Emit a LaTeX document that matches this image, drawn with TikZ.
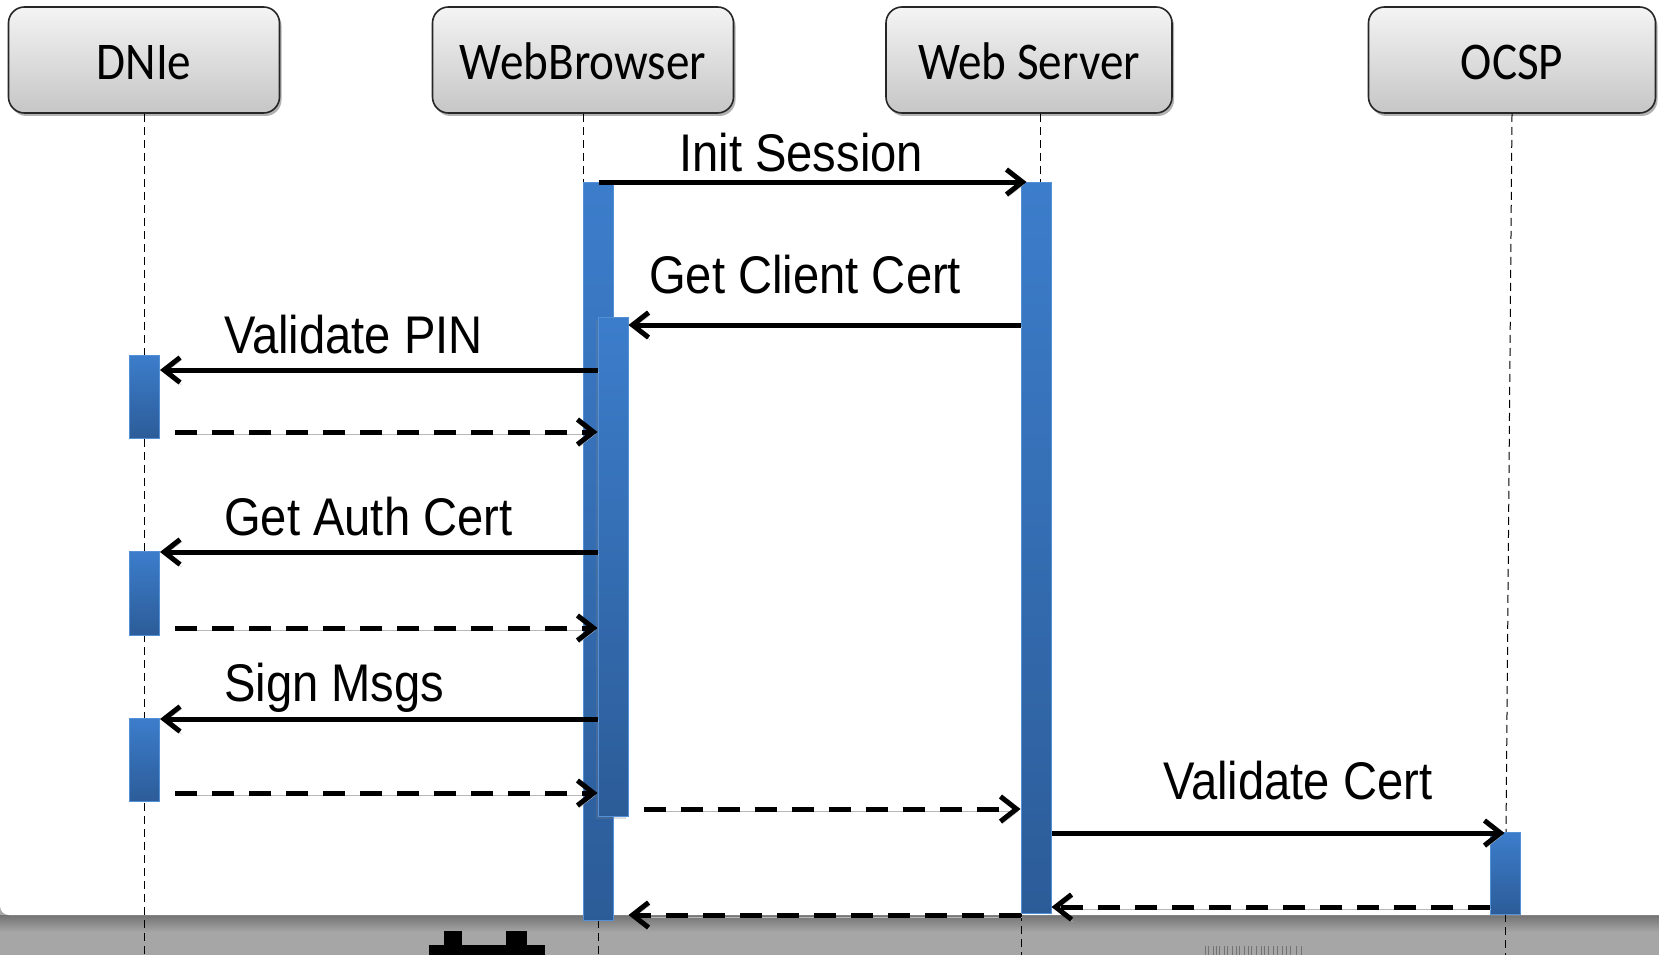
\documentclass[tikz,border=0pt]{standalone}
\usepackage{fontspec}
\usetikzlibrary{arrows.meta,shadows,calc}
\newfontfamily\hdrfont[FakeStretch=0.89]{Carlito}
\newfontfamily\lblfont[FakeStretch=0.89]{Liberation Sans}
\definecolor{barTop}{HTML}{3C7DCB}
\definecolor{barBot}{HTML}{2C5C98}
\definecolor{barEdge}{HTML}{5390D6}
\definecolor{hdrTop}{HTML}{F4F4F4}
\definecolor{hdrBot}{HTML}{C6C6C6}
\definecolor{floorgray}{HTML}{A6A6A6}
\begin{document}
\begin{tikzpicture}[x=1pt,y=-1pt,
  actor/.style={draw=black!85, line width=1.6pt, rounded corners=16pt,
    top color=hdrTop, bottom color=hdrBot, minimum height=106pt, inner sep=0pt,
    text height=40pt, text depth=0pt,
    font=\hdrfont\fontsize{53}{60}\selectfont,
    drop shadow={shadow xshift=2pt, shadow yshift=-3pt, opacity=0.3, fill=black}},
  life/.style={line width=1pt, dash pattern=on 8pt off 5pt},
  actbar/.style={draw=barEdge, line width=1pt, top color=barTop, bottom color=barBot,
    minimum width=30pt, inner sep=0pt, anchor=north},
  msg/.style={line width=5pt, -{Straight Barb[length=16pt,width=25pt]},
    preaction={draw=black!28, transform canvas={shift={(1.5pt,-2.5pt)}}}},
  reply/.style={msg, dash pattern=on 22pt off 15pt},
  lbl/.style={font=\lblfont\fontsize{53}{60}\selectfont, anchor=base west, inner sep=0pt},
]
\useasboundingbox (0,0) rectangle (1659,955);
\clip (0,0) rectangle (1659,955);

% floor strip and page panel
\fill[floorgray] (0,0) rectangle (1659,955);
\shade[top color=black!55, bottom color=floorgray] (0,915) rectangle (1659,932);
\fill[white, rounded corners=9pt] (0,-30) rectangle (1700,915);

% objects
\node[actor, minimum width=271pt] (dnie) at (144,60) {DNIe};
\node[actor, minimum width=301pt] (wb) at (583,60) {WebBrowser};
\node[actor, minimum width=286pt] (ws) at (1029,60) {Web Server};
\node[actor, minimum width=287pt] (ocsp) at (1512,60) {OCSP};

% lifelines
\draw[life] (dnie.south) -- (144,955);
\draw[life] (wb.south) -- (583,182);
\draw[life] (598,920) -- (598,955);
\draw[life] (ws.south -| 1040,0) -- (1040,182);
\draw[life] (1021,913) -- (1021,955);
\draw[life] (ocsp.south) -- (1506,832);
\draw[life] (1505,914) -- (1505,955);

% activation bars
\node[actbar, minimum height=738pt] (wb1) at (598.5,182) {};
\node[actbar, minimum height=499pt, drop shadow={shadow xshift=-2pt, shadow yshift=-2pt, opacity=0.25}] (wb2) at (613,317) {};
\node[actbar, minimum height=731pt] (ws1) at (1036,182) {};
\node[actbar, minimum height=82pt] (oc1) at (1505,832) {};
\node[actbar, minimum height=83pt] (dn1) at (144.5,355) {};
\node[actbar, minimum height=84pt] (dn2) at (144.5,551) {};
\node[actbar, minimum height=83pt] (dn3) at (144.5,718) {};

% messages
\draw[msg] (wb1.north) -- ($(ws1.north west)+(6,0)$);
\draw[msg] (ws1.west |- 0,325) -- (wb2.east |- 0,325);
\draw[msg] (wb2.west |- 0,370) -- (dn1.east |- 0,370);
\draw[reply] ($(dn1.east |- 0,432)+(15,0)$) -- (wb2.west |- 0,432);
\draw[msg] (wb2.west |- 0,552) -- (dn2.east |- 0,552);
\draw[reply] ($(dn2.east |- 0,628)+(15,0)$) -- (wb2.west |- 0,628);
\draw[msg] (wb2.west |- 0,719) -- (dn3.east |- 0,719);
\draw[reply] ($(dn3.east |- 0,793)+(15,0)$) -- (wb2.west |- 0,793);
\draw[reply] ($(wb2.east |- 0,809)+(15,0)$) -- (ws1.west |- 0,809);
\draw[msg] (ws1.east |- 0,833) -- ($(oc1.north west)+(15,1)$);
\draw[reply] (oc1.west |- 0,907) -- (ws1.east |- 0,907);
\draw[reply] (ws1.west |- 0,915) -- (wb2.east |- 0,915);

% message labels
\node[lbl] (l1) at (679,171) {Init Session};
\node[lbl] (l2) at (649,293) {Get Client Cert};
\node[lbl] (l3) at (224,353) {Validate PIN};
\node[lbl] (l4) at (224,535) {Get Auth Cert};
\node[lbl] (l5) at (224,701) {Sign Msgs};
\node[lbl] (l6) at (1163,799) {Validate Cert};

% marks on the floor strip
\fill (429,945) rectangle (545,960);
\fill (444,931) rectangle (462,946);
\fill (506,931) rectangle (527,946);
\foreach \bx in {1205,1208,1213,1216,1219,1224,1227,1232,1236,1239,1244,1248,1251,1256,1261,1264,1268,1273,1277,1282,1286,1290,1296,1301}
  \draw[black!55, line width=1pt] (\bx,946) -- (\bx,955);
\end{tikzpicture}
\end{document}
